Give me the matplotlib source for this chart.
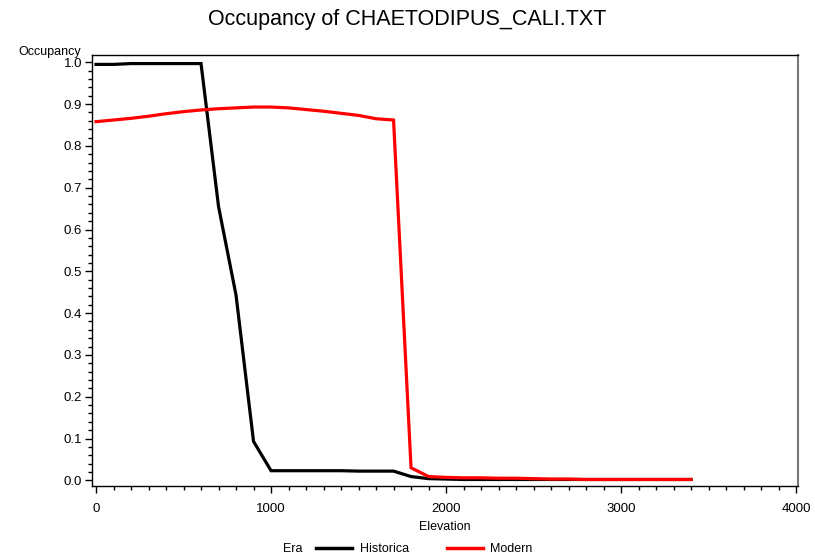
import matplotlib
matplotlib.use("Agg")
import matplotlib.pyplot as plt
from matplotlib.ticker import MultipleLocator, FixedLocator
from matplotlib.lines import Line2D

elevation = list(range(0, 3500, 100))
historical = [0.995, 0.995, 0.997, 0.997, 0.997, 0.997, 0.997, 0.655, 0.443, 0.093,
              0.023, 0.023, 0.023, 0.023, 0.023, 0.022, 0.022, 0.022, 0.009, 0.004,
              0.003, 0.002, 0.002, 0.002, 0.002, 0.002, 0.002, 0.002, 0.002, 0.002,
              0.002, 0.002, 0.002, 0.002, 0.002]
modern = [0.858, 0.862, 0.866, 0.871, 0.877, 0.882, 0.886, 0.889, 0.891, 0.893,
          0.893, 0.891, 0.887, 0.883, 0.878, 0.873, 0.865, 0.862, 0.030, 0.009,
          0.007, 0.006, 0.006, 0.005, 0.005, 0.004, 0.003, 0.003, 0.002, 0.002,
          0.002, 0.002, 0.002, 0.002, 0.002]
series_names = ["Historica", "Modern"]
series_colors = ["black", "red"]
x_ticks = [0, 1000, 2000, 3000, 4000]
y_ticks = [0.0, 0.1, 0.2, 0.3, 0.4, 0.5, 0.6, 0.7, 0.8, 0.9, 1.0]
title = "Occupancy of CHAETODIPUS_CALI.TXT"

plt.rcParams['font.family'] = ['Liberation Sans', 'DejaVu Sans']

fig = plt.figure(figsize=(8.15, 5.58), dpi=100)
ax = fig.add_axes([92/815, 1-486/558, (798-92)/815, (486-55)/558])

for vals, name, col in zip([historical, modern], series_names, series_colors):
    ax.plot(elevation, vals, color=col, lw=2.3, solid_joinstyle='miter')

ax.set_xlim(-23, 4011)
ax.set_ylim(-0.0136, 1.0175)
ax.xaxis.set_major_locator(FixedLocator(x_ticks))
ax.xaxis.set_minor_locator(MultipleLocator(100))
ax.yaxis.set_major_locator(FixedLocator(y_ticks))
ax.yaxis.set_minor_locator(MultipleLocator(0.02))
ax.set_xticklabels([str(v) for v in x_ticks])
ax.set_yticklabels([f"{v:.1f}" for v in y_ticks])
ax.tick_params(axis='both', which='major', direction='out', length=5, width=1, labelsize=9.5)
ax.tick_params(axis='both', which='minor', direction='out', length=3, width=1)
ax.tick_params(axis='x', pad=7)
ax.tick_params(axis='y', pad=2)
for s in ax.spines.values():
    s.set_linewidth(1)
ax.spines['right'].set_color('#777777')
ax.spines['right'].set_linewidth(1.5)

fig.text(0.5, 1-20/558, title, ha='center', va='center', fontsize=15.5)
fig.text(18/815, 1-52/558, "Occupancy", ha='left', va='center', fontsize=9)
fig.text(445/815, 1-527/558, "Elevation", ha='center', va='center', fontsize=9)

# legend row
fig.text(283/815, 1-549/558, "Era", ha='left', va='center', fontsize=9)
fig.add_artist(Line2D([316/815, 352/815], [1-548/558]*2, color=series_colors[0], lw=2.5))
fig.text(360/815, 1-549/558, series_names[0], ha='left', va='center', fontsize=9)
fig.add_artist(Line2D([447/815, 483/815], [1-548/558]*2, color=series_colors[1], lw=2.5))
fig.text(490/815, 1-549/558, series_names[1], ha='left', va='center', fontsize=9)

fig.savefig("out.png", dpi=100)
